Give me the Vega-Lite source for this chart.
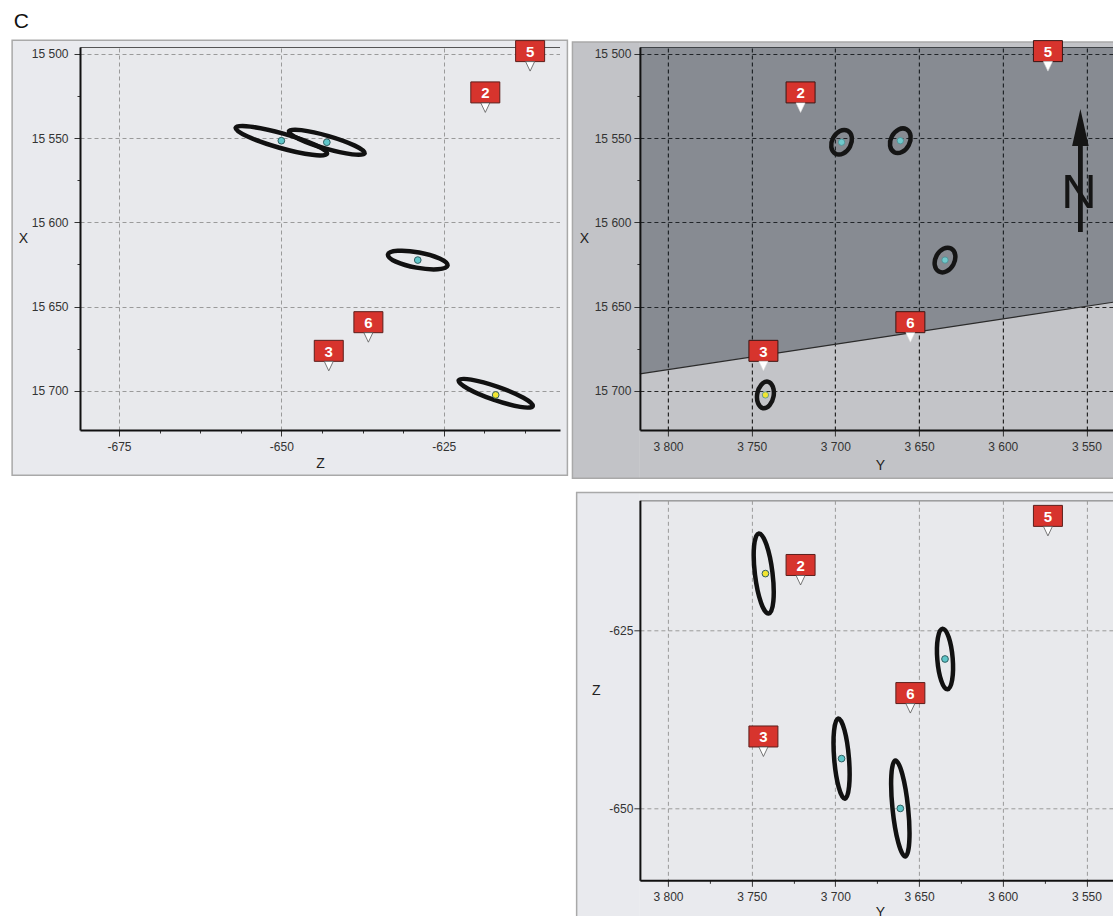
{
  "$schema": "https://vega.github.io/schema/vega-lite/v6.json",
  "padding": {"left": 10, "top": 10, "right": 0, "bottom": 0},
  "background": "white",
  "title": {"text": "C", "anchor": "start", "fontSize": 21, "fontWeight": "normal", "font": "Liberation Sans", "color": "#111", "offset": 6.5, "dx": 3},
  "config": {
    "font": "Liberation Sans",
    "axis": {
      "labelFont": "Liberation Sans", "labelFontSize": 12, "labelColor": "#333",
      "titleFont": "Liberation Sans", "titleFontSize": 14, "titleFontWeight": "normal", "titleColor": "#222",
      "titleAngle": 0, "titleBaseline": "middle", "titleAlign": "center",
      "tickColor": "#333", "tickWidth": 1, "domainColor": "#111", "domainWidth": 2,
      "labelFlush": false, "labelOverlap": false
    }
  },
  "datasets": {
    "events": [
      {"id": "P1", "type": "event", "X": 15552.5, "Y": 3696.3, "Z": -643.0},
      {"id": "P2", "type": "event", "X": 15551.6, "Y": 3661.2, "Z": -650.0},
      {"id": "P3", "type": "event", "X": 15622.4, "Y": 3634.5, "Z": -629.0},
      {"id": "P4", "type": "master", "X": 15702.4, "Y": 3741.8, "Z": -617.0}
    ],
    "markers": [
      {"id": "2", "X": 15534.8, "Y": 3720.8, "Z": -618.6},
      {"id": "3", "X": 15688.1, "Y": 3743.0, "Z": -642.7},
      {"id": "5", "X": 15510.3, "Y": 3573.0, "Z": -611.7},
      {"id": "6", "X": 15671.1, "Y": 3655.2, "Z": -636.6}
    ],
    "boundary": [
      {"Y": 3816.8, "X": 15689.9},
      {"Y": 3530, "X": 15646.8}
    ]
  },
  "bounds": "flush",
  "spacing": 79.9,
  "resolve": {"scale": {"x": "independent", "y": "independent", "color": "independent", "shape": "independent"}},
  "hconcat": [
    {
      "width": 480, "height": 383,
      "view": {"fill": "#e8e9ec", "stroke": "#555", "strokeWidth": 1},
      "resolve": {"axis": {"x": "independent", "y": "independent"}},
      "layer": [
        {
          "data": {"values": [{}]},
          "mark": {"type": "rect", "fill": "#e9eaee"},
          "encoding": {
            "x": {"datum": -691.45, "type": "quantitative", "scale": {"domain": [-681.0, -607.1], "nice": false, "zero": false},
                  "axis": {"orient": "bottom", "grid": true, "values": [-675, -650, -625], "gridColor": "#9a9a9a", "gridDash": [4, 3], "gridWidth": 1, "domain": false, "ticks": false, "labels": false, "title": null, "zindex": 0, "maxExtent": 0, "minExtent": 0}},
            "x2": {"datum": -681.0},
            "y": {"datum": 15492.0, "type": "quantitative", "scale": {"domain": [15496, 15723.2], "reverse": true, "nice": false, "zero": false},
                  "axis": {"orient": "left", "grid": true, "values": [15500, 15550, 15600, 15650, 15700], "gridColor": "#9a9a9a", "gridDash": [4, 3], "gridWidth": 1, "domain": false, "ticks": false, "labels": false, "title": null, "zindex": 0, "maxExtent": 0, "minExtent": 0}},
            "y2": {"datum": 15750.1}
          }
        },
        {
          "layer": [
            {
              "data": {"values": [{}]},
              "mark": {"type": "rect", "fill": "#e9eaee"},
              "encoding": {
                "x": {"datum": -607.1, "type": "quantitative", "scale": {"domain": [-681.0, -607.1], "nice": false, "zero": false},
                      "axis": {"orient": "bottom", "grid": false, "zindex": 1, "title": "Z", "titleY": 33, "labelOverlap": false,
                               "values": [-675, -668.75, -662.5, -656.25, -650, -643.75, -637.5, -631.25, -625, -618.75, -612.5],
                               "labelExpr": "datum.value % 25 === 0 ? toString(datum.value) : ''",
                               "tickSize": {"condition": {"test": "datum.value % 25 === 0", "value": 6}, "value": 3},
                               "labelPadding": 5}},
                "x2": {"datum": -605.96},
                "y": {"datum": 15492.0, "type": "quantitative", "scale": {"domain": [15496, 15723.2], "reverse": true, "nice": false, "zero": false},
                      "axis": {"orient": "left", "grid": false, "zindex": 1, "title": "X", "titleX": -57, "titleY": 191.5, "labelOverlap": false,
                               "values": [15500, 15512.5, 15525, 15537.5, 15550, 15562.5, 15575, 15587.5, 15600, 15612.5, 15625, 15637.5, 15650, 15662.5, 15675, 15687.5, 15700, 15712.5],
                               "labelExpr": "datum.value % 50 === 0 ? replace(format(datum.value, ','), ',', ' ') : ''",
                               "tickSize": {"condition": {"test": "datum.value % 50 === 0", "value": 6}, "value": 3},
                               "labelPadding": 6}},
                "y2": {"datum": 15750.1}
              }
            },
            {
              "data": {"values": [{}]},
              "mark": {"type": "rect", "fill": "#e9eaee"},
              "encoding": {
                "x": {"datum": -681.0, "type": "quantitative"}, "x2": {"datum": -607.1},
                "y": {"datum": 15492.0, "type": "quantitative"}, "y2": {"datum": 15496}
              }
            },
            {
              "data": {"values": [{}]},
              "mark": {"type": "rect", "fill": "#e9eaee"},
              "encoding": {
                "x": {"datum": -681.0, "type": "quantitative"}, "x2": {"datum": -607.1},
                "y": {"datum": 15723.2, "type": "quantitative"}, "y2": {"datum": 15750.1}
              }
            },
            {
              "data": {"values": [{}]},
              "mark": {"type": "rect", "filled": false, "stroke": "#a9a9a9", "strokeWidth": 1.5},
              "encoding": {
                "x": {"datum": -691.45, "type": "quantitative"}, "x2": {"datum": -605.96},
                "y": {"datum": 15492.0, "type": "quantitative"}, "y2": {"datum": 15750.1}
              }
            },
            {
              "data": {"name": "events"},
              "mark": {"type": "point", "size": 4, "filled": false, "stroke": "#111", "strokeWidth": 4.5, "opacity": 1},
              "encoding": {
                "x": {"field": "Z", "type": "quantitative"},
                "y": {"field": "X", "type": "quantitative"},
                "shape": {"field": "id", "type": "nominal", "legend": null, "scale": {"domain": ["P1", "P2", "P3", "P4"], "range": [
                  "M-37.93,-11.02A39.5,6.5,16.2,0,1,37.93,11.02A39.5,6.5,16.2,0,1,-37.93,-11.02Z",
                  "M-45.71,-12.93A47.5,7.3,15.8,0,1,45.71,12.93A47.5,7.3,15.8,0,1,-45.71,-12.93Z",
                  "M-29.8,-5.47A30.3,7.8,10.4,0,1,29.8,5.47A30.3,7.8,10.4,0,1,-29.8,-5.47Z",
                  "M-37.02,-14.59A39.2,6.8,19.2,0,1,37.02,11.19A39.2,6.8,19.2,0,1,-37.02,-14.59Z"]}}
              }
            },
            {
              "data": {"name": "events"},
              "mark": {"type": "circle", "size": 45, "opacity": 1, "stroke": "#2f5f62", "strokeWidth": 1},
              "encoding": {
                "x": {"field": "Z", "type": "quantitative"},
                "y": {"field": "X", "type": "quantitative"},
                "color": {"field": "type", "type": "nominal", "legend": null, "scale": {"domain": ["event", "master"], "range": ["#5ec6c9", "#f2e530"]}}
              }
            },
            {
              "data": {"name": "markers"},
              "mark": {"type": "point", "shape": "M-14.5,-30.5L14.5,-30.5L14.5,-9.5L-14.5,-9.5Z", "size": 4, "filled": true, "fill": "#d7342d", "stroke": "#5b1f1c", "strokeWidth": 1, "opacity": 1},
              "encoding": {"x": {"field": "Z", "type": "quantitative"}, "y": {"field": "X", "type": "quantitative"}}
            },
            {
              "data": {"name": "markers"},
              "mark": {"type": "point", "shape": "M-4.5,-9.5L4.5,-9.5L0,0Z", "size": 4, "filled": true, "fill": "#ffffff", "stroke": "#555", "strokeWidth": 0.8, "opacity": 1},
              "encoding": {"x": {"field": "Z", "type": "quantitative"}, "y": {"field": "X", "type": "quantitative"}}
            },
            {
              "data": {"name": "markers"},
              "mark": {"type": "text", "dy": -14, "fontSize": 15, "fontWeight": "bold", "fill": "#ffffff", "baseline": "alphabetic", "align": "center", "font": "Liberation Sans"},
              "encoding": {"x": {"field": "Z", "type": "quantitative"}, "y": {"field": "X", "type": "quantitative"}, "text": {"field": "id"}}
            }
          ]
        }
      ]
    },
    {
      "vconcat": [
        {
          "width": 480, "height": 383,
          "view": {"fill": "#c3c4c8", "stroke": "#555", "strokeWidth": 1},
          "resolve": {"axis": {"x": "independent", "y": "independent"}},
          "layer": [
            {
              "data": {"values": [{}]},
              "mark": {"type": "rect", "fill": "#c2c3c7"},
              "encoding": {
                "x": {"datum": 3857.1, "type": "quantitative", "scale": {"domain": [3530, 3816.8], "reverse": true, "nice": false, "zero": false},
                      "axis": {"orient": "bottom", "grid": true, "values": [3800, 3750, 3700, 3650, 3600, 3550], "gridColor": "#262626", "gridDash": [4, 3], "gridWidth": 1.2, "domain": false, "ticks": false, "labels": false, "title": null, "zindex": 0, "maxExtent": 0, "minExtent": 0}},
                "x2": {"datum": 3816.8},
                "y": {"datum": 15493.0, "type": "quantitative", "scale": {"domain": [15496, 15723.2], "reverse": true, "nice": false, "zero": false},
                      "axis": {"orient": "left", "grid": true, "values": [15500, 15550, 15600, 15650, 15700], "gridColor": "#262626", "gridDash": [4, 3], "gridWidth": 1.2, "domain": false, "ticks": false, "labels": false, "title": null, "zindex": 0, "maxExtent": 0, "minExtent": 0}},
                "y2": {"datum": 15751.8}
              }
            },
            {
              "layer": [
                {
                  "data": {"values": [{}]},
                  "mark": {"type": "rect", "fill": "#c2c3c7"},
                  "encoding": {
                    "x": {"datum": 3816.8, "type": "quantitative", "scale": {"domain": [3530, 3816.8], "reverse": true, "nice": false, "zero": false},
                          "axis": {"orient": "bottom", "grid": false, "zindex": 1, "title": "Y", "titleY": 35, "labelOverlap": false,
                                   "values": [3800, 3750, 3700, 3650, 3600, 3550],
                                   "labelExpr": "replace(format(datum.value, ','), ',', ' ')",
                                   "tickSize": 6, "labelPadding": 5}},
                    "x2": {"datum": 3480},
                    "y": {"datum": 15493.0, "type": "quantitative", "scale": {"domain": [15496, 15723.2], "reverse": true, "nice": false, "zero": false},
                          "axis": {"orient": "left", "grid": false, "zindex": 1, "title": "X", "titleX": -56, "titleY": 191.5, "labelOverlap": false,
                                   "values": [15500, 15512.5, 15525, 15537.5, 15550, 15562.5, 15575, 15587.5, 15600, 15612.5, 15625, 15637.5, 15650, 15662.5, 15675, 15687.5, 15700, 15712.5],
                                   "labelExpr": "datum.value % 50 === 0 ? replace(format(datum.value, ','), ',', ' ') : ''",
                                   "tickSize": {"condition": {"test": "datum.value % 50 === 0", "value": 6}, "value": 3},
                                   "labelPadding": 3}},
                    "y2": {"datum": 15496}
                  }
                },
                {
                  "data": {"values": [{}]},
                  "mark": {"type": "rect", "fill": "#c2c3c7"},
                  "encoding": {
                    "x": {"datum": 3816.8, "type": "quantitative"}, "x2": {"datum": 3480},
                    "y": {"datum": 15723.2, "type": "quantitative"}, "y2": {"datum": 15751.8}
                  }
                },
                {
                  "data": {"values": [{}]},
                  "mark": {"type": "rect", "filled": false, "stroke": "#a9a9a9", "strokeWidth": 1.5},
                  "encoding": {
                    "x": {"datum": 3857.1, "type": "quantitative"}, "x2": {"datum": 3480},
                    "y": {"datum": 15493.0, "type": "quantitative"}, "y2": {"datum": 15751.8}
                  }
                },
                {
                  "data": {"name": "boundary"},
                  "mark": {"type": "area", "fill": "#18212e", "fillOpacity": 0.35},
                  "encoding": {
                    "x": {"field": "Y", "type": "quantitative"},
                    "y": {"field": "X", "type": "quantitative"},
                    "y2": {"datum": 15496}
                  }
                },
                {
                  "data": {"name": "boundary"},
                  "mark": {"type": "line", "color": "#2b2b2b", "strokeWidth": 1.2},
                  "encoding": {
                    "x": {"field": "Y", "type": "quantitative"},
                    "y": {"field": "X", "type": "quantitative"}
                  }
                },
                {
                  "data": {"name": "events"},
                  "mark": {"type": "point", "size": 4, "filled": false, "stroke": "#151515", "strokeWidth": 4.5, "opacity": 1},
                  "encoding": {
                    "x": {"field": "Y", "type": "quantitative"},
                    "y": {"field": "X", "type": "quantitative"},
                    "shape": {"field": "id", "type": "nominal", "legend": null, "scale": {"domain": ["P1", "P2", "P3", "P4"], "range": [
                      "M-6.1,11.48A13,9.5,-62,0,1,6.1,-11.48A13,9.5,-62,0,1,-6.1,11.48Z",
                      "M-6.1,11.48A13,9.5,-62,0,1,6.1,-11.48A13,9.5,-62,0,1,-6.1,11.48Z",
                      "M-6.1,11.48A13,9.5,-62,0,1,6.1,-11.48A13,9.5,-62,0,1,-6.1,11.48Z",
                      "M-2.34,13.29A13.5,8.5,-80,0,1,2.34,-13.29A13.5,8.5,-80,0,1,-2.34,13.29Z"]}}
                  }
                },
                {
                  "data": {"name": "events"},
                  "mark": {"type": "circle", "size": 40, "opacity": 1, "stroke": "#4a8f93", "strokeWidth": 0.8},
                  "encoding": {
                    "x": {"field": "Y", "type": "quantitative"},
                    "y": {"field": "X", "type": "quantitative"},
                    "color": {"field": "type", "type": "nominal", "legend": null, "scale": {"domain": ["event", "master"], "range": ["#6fc9cc", "#f2e530"]}}
                  }
                },
                {
                  "data": {"name": "markers"},
                  "mark": {"type": "point", "shape": "M-14.5,-30.5L14.5,-30.5L14.5,-9.5L-14.5,-9.5Z", "size": 4, "filled": true, "fill": "#d7342d", "stroke": "#3b1614", "strokeWidth": 1, "opacity": 1},
                  "encoding": {"x": {"field": "Y", "type": "quantitative"}, "y": {"field": "X", "type": "quantitative"}}
                },
                {
                  "data": {"name": "markers"},
                  "mark": {"type": "point", "shape": "M-4.5,-9.5L4.5,-9.5L0,0Z", "size": 4, "filled": true, "fill": "#ffffff", "stroke": "#dddddd", "strokeWidth": 0.6, "opacity": 1},
                  "encoding": {"x": {"field": "Y", "type": "quantitative"}, "y": {"field": "X", "type": "quantitative"}}
                },
                {
                  "data": {"name": "markers"},
                  "mark": {"type": "text", "dy": -14, "fontSize": 15, "fontWeight": "bold", "fill": "#ffffff", "baseline": "alphabetic", "align": "center", "font": "Liberation Sans"},
                  "encoding": {"x": {"field": "Y", "type": "quantitative"}, "y": {"field": "X", "type": "quantitative"}, "text": {"field": "id"}}
                },
                {
                  "data": {"values": [{}]},
                  "mark": {"type": "text", "text": "N", "fontSize": 49, "fontWeight": "normal", "fill": "#151515", "align": "center", "baseline": "middle", "dy": 2.5, "font": "Liberation Sans"},
                  "encoding": {"x": {"datum": 3554.5, "type": "quantitative"}, "y": {"datum": 15581.3, "type": "quantitative"}}
                },
                {
                  "data": {"values": [{}]},
                  "mark": {"type": "point", "shape": "M0,-61L8.3,-24L2.4,-24L2.4,62L-2.4,62L-2.4,-24L-8.3,-24Z", "size": 4, "filled": true, "fill": "#151515", "strokeWidth": 0, "opacity": 1},
                  "encoding": {"x": {"datum": 3553.6, "type": "quantitative"}, "y": {"datum": 15569, "type": "quantitative"}}
                }
              ]
            }
          ]
        },
        {
          "width": 480, "height": 380,
          "view": {"fill": "#e8e9ec", "stroke": "#555", "strokeWidth": 1},
          "resolve": {"axis": {"x": "independent", "y": "independent"}},
          "layer": [
            {
              "data": {"values": [{}]},
              "mark": {"type": "rect", "fill": "#e9eaee"},
              "encoding": {
                "x": {"datum": 3854.6, "type": "quantitative", "scale": {"domain": [3530, 3816.8], "reverse": true, "nice": false, "zero": false},
                      "axis": {"orient": "bottom", "grid": true, "values": [3800, 3750, 3700, 3650, 3600, 3550], "gridColor": "#9a9a9a", "gridDash": [4, 3], "gridWidth": 1, "domain": false, "ticks": false, "labels": false, "title": null, "zindex": 0, "maxExtent": 0, "minExtent": 0}},
                "x2": {"datum": 3816.8},
                "y": {"datum": -605.62, "type": "quantitative", "scale": {"domain": [-660.1, -606.7], "nice": false, "zero": false},
                      "axis": {"orient": "left", "grid": true, "values": [-625, -650], "gridColor": "#9a9a9a", "gridDash": [4, 3], "gridWidth": 1, "domain": false, "ticks": false, "labels": false, "title": null, "zindex": 0, "maxExtent": 0, "minExtent": 0}},
                "y2": {"datum": -667.1}
              }
            },
            {
              "layer": [
                {
                  "data": {"values": [{}]},
                  "mark": {"type": "rect", "fill": "#e9eaee"},
                  "encoding": {
                    "x": {"datum": 3816.8, "type": "quantitative", "scale": {"domain": [3530, 3816.8], "reverse": true, "nice": false, "zero": false},
                          "axis": {"orient": "bottom", "grid": false, "zindex": 1, "title": "Y", "titleY": 31.7, "labelOverlap": false,
                                   "values": [3550, 3562.5, 3575, 3587.5, 3600, 3612.5, 3625, 3637.5, 3650, 3662.5, 3675, 3687.5, 3700, 3712.5, 3725, 3737.5, 3750, 3762.5, 3775, 3787.5, 3800, 3812.5],
                                   "labelExpr": "datum.value % 50 === 0 ? replace(format(datum.value, ','), ',', ' ') : ''",
                                   "tickSize": {"condition": {"test": "datum.value % 50 === 0", "value": 6}, "value": 3},
                                   "labelPadding": 5}},
                    "x2": {"datum": 3480},
                    "y": {"datum": -605.62, "type": "quantitative", "scale": {"domain": [-660.1, -606.7], "nice": false, "zero": false},
                          "axis": {"orient": "left", "grid": false, "zindex": 1, "title": "Z", "titleX": -44, "titleY": 190, "labelOverlap": false,
                                   "values": [-650, -625],
                                   "labelExpr": "toString(datum.value)",
                                   "tickSize": 6, "labelPadding": 1}},
                    "y2": {"datum": -606.7}
                  }
                },
                {
                  "data": {"values": [{}]},
                  "mark": {"type": "rect", "fill": "#e9eaee"},
                  "encoding": {
                    "x": {"datum": 3816.8, "type": "quantitative"}, "x2": {"datum": 3480},
                    "y": {"datum": -660.1, "type": "quantitative"}, "y2": {"datum": -667.1}
                  }
                },
                {
                  "data": {"values": [{}]},
                  "mark": {"type": "rect", "filled": false, "stroke": "#a9a9a9", "strokeWidth": 1.5},
                  "encoding": {
                    "x": {"datum": 3854.6, "type": "quantitative"}, "x2": {"datum": 3480},
                    "y": {"datum": -605.62, "type": "quantitative"}, "y2": {"datum": -667.1}
                  }
                },
                {
                  "data": {"name": "events"},
                  "mark": {"type": "point", "size": 4, "filled": false, "stroke": "#111", "strokeWidth": 4.5, "opacity": 1},
                  "encoding": {
                    "x": {"field": "Y", "type": "quantitative"},
                    "y": {"field": "Z", "type": "quantitative"},
                    "shape": {"field": "id", "type": "nominal", "legend": null, "scale": {"domain": ["P1", "P2", "P3", "P4"], "range": [
                      "M-3.3,-40.11A40.25,7.5,85.3,0,1,3.3,40.11A40.25,7.5,85.3,0,1,-3.3,-40.11Z",
                      "M-4.96,-47.99A48.25,7.9,84.1,0,1,4.96,47.99A48.25,7.9,84.1,0,1,-4.96,-47.99Z",
                      "M-2.44,-30.3A30.4,7.8,85.4,0,1,2.44,30.3A30.4,7.8,85.4,0,1,-2.44,-30.3Z",
                      "M-6.61,-40A40.3,8.8,83,0,1,3.21,40A40.3,8.8,83,0,1,-6.61,-40Z"]}}
                  }
                },
                {
                  "data": {"name": "events"},
                  "mark": {"type": "circle", "size": 45, "opacity": 1, "stroke": "#2f5f62", "strokeWidth": 1},
                  "encoding": {
                    "x": {"field": "Y", "type": "quantitative"},
                    "y": {"field": "Z", "type": "quantitative"},
                    "color": {"field": "type", "type": "nominal", "legend": null, "scale": {"domain": ["event", "master"], "range": ["#5ec6c9", "#f2e530"]}}
                  }
                },
                {
                  "data": {"name": "markers"},
                  "mark": {"type": "point", "shape": "M-14.5,-30.5L14.5,-30.5L14.5,-9.5L-14.5,-9.5Z", "size": 4, "filled": true, "fill": "#d7342d", "stroke": "#5b1f1c", "strokeWidth": 1, "opacity": 1},
                  "encoding": {"x": {"field": "Y", "type": "quantitative"}, "y": {"field": "Z", "type": "quantitative"}}
                },
                {
                  "data": {"name": "markers"},
                  "mark": {"type": "point", "shape": "M-4.5,-9.5L4.5,-9.5L0,0Z", "size": 4, "filled": true, "fill": "#ffffff", "stroke": "#555", "strokeWidth": 0.8, "opacity": 1},
                  "encoding": {"x": {"field": "Y", "type": "quantitative"}, "y": {"field": "Z", "type": "quantitative"}}
                },
                {
                  "data": {"name": "markers"},
                  "mark": {"type": "text", "dy": -14, "fontSize": 15, "fontWeight": "bold", "fill": "#ffffff", "baseline": "alphabetic", "align": "center", "font": "Liberation Sans"},
                  "encoding": {"x": {"field": "Y", "type": "quantitative"}, "y": {"field": "Z", "type": "quantitative"}, "text": {"field": "id"}}
                }
              ]
            }
          ]
        }
      ],
      "spacing": 70.3,
      "bounds": "flush",
      "resolve": {"scale": {"x": "independent", "y": "independent", "color": "independent", "shape": "independent"}}
    }
  ]
}
